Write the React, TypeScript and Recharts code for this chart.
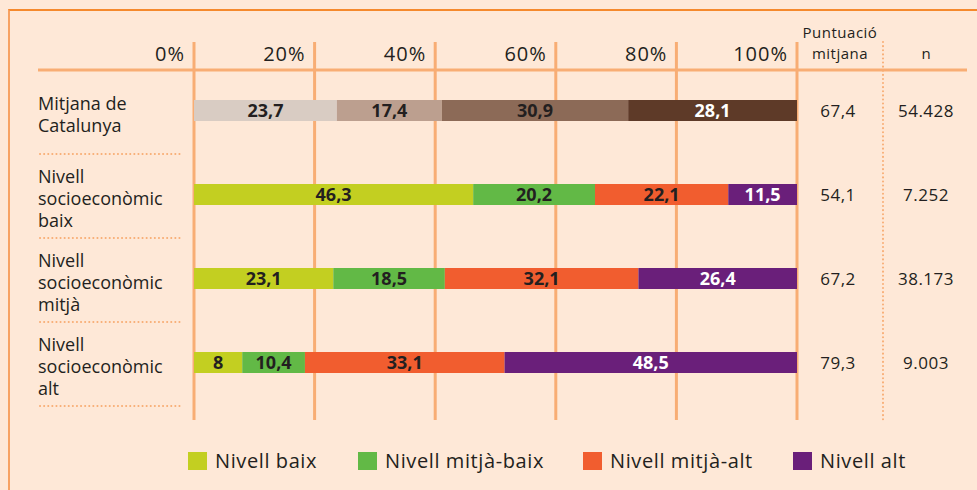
import React from "react";
import {
  BarChart,
  Bar,
  XAxis,
  YAxis,
  CartesianGrid,
  Cell,
  LabelList,
  Customized,
} from "recharts";

const categoryLines = [
  ["Mitjana de", "Catalunya"],
  ["Nivell", "socioeconòmic", "baix"],
  ["Nivell", "socioeconòmic", "mitjà"],
  ["Nivell", "socioeconòmic", "alt"],
];
const nivellBaix = [23.7, 46.3, 23.1, 8];
const nivellMitjaBaix = [17.4, 20.2, 18.5, 10.4];
const nivellMitjaAlt = [30.9, 22.1, 32.1, 33.1];
const nivellAlt = [28.1, 11.5, 26.4, 48.5];
const puntuacio = [67.4, 54.1, 67.2, 79.3];
const nAlumnes = [54428, 7252, 38173, 9003];
const xTicks = [0, 20, 40, 60, 80, 100];

const seriesKeys = ["baix", "mitjaBaix", "mitjaAlt", "alt"];
const seriesNames = ["Nivell baix", "Nivell mitjà-baix", "Nivell mitjà-alt", "Nivell alt"];
const seriesColors = ["#c3cf21", "#62b946", "#f15d2f", "#6a1f7a"];
const catalunyaColors = ["#d9ccc3", "#bc9f8f", "#8c6a57", "#5e3a28"];

const data = categoryLines.map((lines, i) => ({
  name: lines.join(" "),
  baix: nivellBaix[i],
  mitjaBaix: nivellMitjaBaix[i],
  mitjaAlt: nivellMitjaAlt[i],
  alt: nivellAlt[i],
}));

const FONT = "'Open Sans', 'Noto Sans', sans-serif";
const GRID = "#f8ad74";
const TEXT = "#231f20";

const fmtDec = (v: number) => String(v).replace(".", ",");
const fmtThousands = (v: number) => String(v).replace(/\B(?=(\d{3})+(?!\d))/g, ".");

function PercentTick({ x, payload }: any) {
  return (
    <text
      x={x - 9}
      y={61}
      textAnchor="end"
      fontSize={20}
      letterSpacing={1}
      fill={TEXT}
      fontFamily={FONT}
    >
      {payload.value}%
    </text>
  );
}

function RowTick({ y, index }: any) {
  const lines = categoryLines[index];
  const lineH = 22;
  const first = y + 11 - ((lines.length - 1) * lineH) / 2;
  return (
    <g fontFamily={FONT} fill={TEXT}>
      {lines.map((l, k) => (
        <text key={k} x={38} y={first + k * lineH} fontSize={18}>
          {l}
        </text>
      ))}
      <line
        x1={40}
        x2={180}
        y1={y + 44}
        y2={y + 44}
        stroke={GRID}
        strokeWidth={2}
        strokeDasharray="0.1 4"
        strokeLinecap="round"
      />
      <text x={838} y={y + 7} textAnchor="middle" fontSize={17} letterSpacing={0.5}>
        {fmtDec(puntuacio[index])}
      </text>
      <text x={926} y={y + 7} textAnchor="middle" fontSize={17} letterSpacing={0.5}>
        {fmtThousands(nAlumnes[index])}
      </text>
    </g>
  );
}

function SegmentLabel(series: number) {
  return (props: any) => {
    const { x, y, width, height, value } = props;
    return (
      <text
        x={x + width / 2}
        y={y + height / 2 + 6}
        textAnchor="middle"
        fontSize={18}
        fontWeight="bold"
        fontFamily={FONT}
        fill={series === 3 ? "#ffffff" : TEXT}
      >
        {fmtDec(value)}
      </text>
    );
  };
}

function Decorations() {
  return (
    <g fontFamily={FONT} fill={TEXT}>
      <line x1={38} x2={967} y1={70} y2={70} stroke={GRID} strokeWidth={3} />
      <line
        x1={883}
        x2={883}
        y1={42}
        y2={420}
        stroke={GRID}
        strokeWidth={2}
        strokeDasharray="0.1 4"
        strokeLinecap="round"
      />
      <text x={840} y={38} textAnchor="middle" fontSize={15} letterSpacing={0.5}>
        Puntuació
      </text>
      <text x={840} y={59} textAnchor="middle" fontSize={15} letterSpacing={0.5}>
        mitjana
      </text>
      <text x={926} y={59} textAnchor="middle" fontSize={15}>
        n
      </text>
    </g>
  );
}

const legendWidths = [170, 225, 210, 160];

export default function App() {
  return (
    <div
      style={{
        position: "absolute",
        left: 0,
        top: 0,
        width: 977,
        height: 490,
        background: "#fee8d7",
        overflow: "hidden",
      }}
    >
      <div
        style={{
          position: "absolute",
          left: 8,
          top: 9,
          width: 977,
          height: 490,
          borderTop: "2px solid #f5892c",
          borderLeft: "2px solid #f7a263",
        }}
      />
      <div style={{ position: "absolute", left: 0, top: 0 }}>
        <BarChart
          width={977}
          height={490}
          layout="vertical"
          data={data}
          barSize={21}
          margin={{ top: 12, right: 180, bottom: 70, left: 0 }}
        >
          <CartesianGrid horizontal={false} stroke={GRID} strokeWidth={3} />
          <XAxis
            type="number"
            orientation="top"
            domain={[0, 100]}
            ticks={xTicks}
            allowDataOverflow
            axisLine={false}
            tickLine={false}
            height={30}
            tick={<PercentTick />}
          />
          <YAxis
            type="category"
            dataKey="name"
            width={194}
            axisLine={false}
            tickLine={false}
            padding={{ top: 26, bottom: 16 }}
            tick={<RowTick />}
          />
          {seriesKeys.map((key, s) => (
            <Bar
              key={key}
              dataKey={key}
              name={seriesNames[s]}
              stackId="a"
              fill={seriesColors[s]}
              isAnimationActive={false}
            >
              {data.map((_, i) => (
                <Cell key={i} fill={i === 0 ? catalunyaColors[s] : seriesColors[s]} />
              ))}
              <LabelList dataKey={key} content={SegmentLabel(s)} />
            </Bar>
          ))}
          <Customized component={Decorations} />
        </BarChart>
      </div>
      <div
        style={{
          position: "absolute",
          left: 188,
          top: 447,
          display: "flex",
          alignItems: "center",
          fontFamily: FONT,
          fontSize: 20,
          letterSpacing: 0.6,
          color: TEXT,
        }}
      >
        {seriesNames.map((n, s) => (
          <div
            key={n}
            style={{ display: "flex", alignItems: "center", width: legendWidths[s] }}
          >
            <span
              style={{
                display: "inline-block",
                width: 19,
                height: 18,
                background: seriesColors[s],
                marginRight: 8,
              }}
            />
            <span>{n}</span>
          </div>
        ))}
      </div>
    </div>
  );
}
